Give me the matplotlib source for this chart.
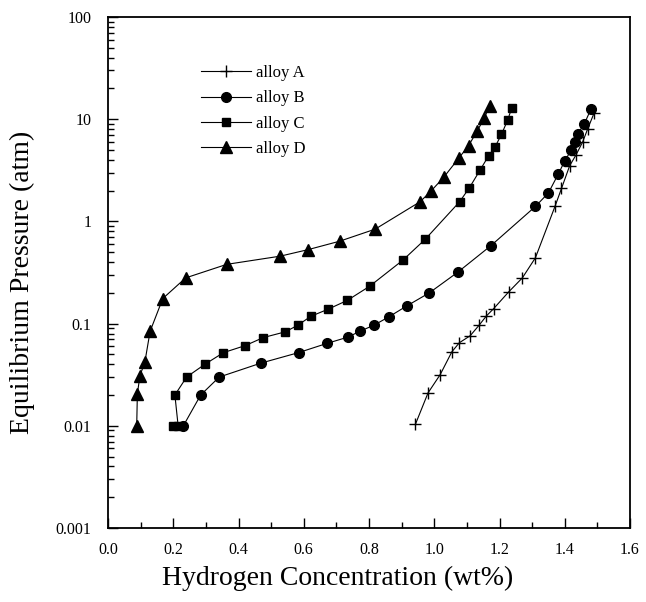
import matplotlib
matplotlib.use('Agg')
import matplotlib.pyplot as plt
from matplotlib.ticker import LogLocator, MultipleLocator, NullFormatter

plt.rcParams['font.family'] = ['Liberation Serif', 'DejaVu Serif']

# datos
xA = [0.942, 0.981, 1.018, 1.054, 1.077, 1.11, 1.137, 1.16, 1.182, 1.228, 1.27, 1.31, 1.37, 1.39, 1.415, 1.435, 1.455, 1.47, 1.49]
pA = [0.0103, 0.021, 0.0316, 0.053, 0.065, 0.076, 0.096, 0.119, 0.14, 0.204, 0.28, 0.44, 1.4, 2.1, 3.5, 4.5, 6.0, 8.0, 11.5]

xB = [0.231, 0.284, 0.341, 0.468, 0.584, 0.671, 0.737, 0.771, 0.814, 0.86, 0.916, 0.985, 1.073, 1.174, 1.31, 1.35, 1.38, 1.40, 1.42, 1.43, 1.44, 1.46, 1.48]
pB = [0.01, 0.02, 0.03, 0.041, 0.052, 0.064, 0.074, 0.084, 0.096, 0.116, 0.149, 0.2, 0.32, 0.58, 1.4, 1.9, 2.9, 3.9, 5.0, 6.0, 7.2, 9.0, 12.5]

xC = [0.2, 0.215, 0.205, 0.241, 0.297, 0.354, 0.421, 0.476, 0.543, 0.581, 0.622, 0.674, 0.734, 0.802, 0.904, 0.972, 1.078, 1.108, 1.141, 1.167, 1.187, 1.206, 1.225, 1.238]
pC = [0.01, 0.01, 0.02, 0.03, 0.04, 0.052, 0.061, 0.073, 0.083, 0.096, 0.118, 0.138, 0.169, 0.232, 0.418, 0.667, 1.56, 2.14, 3.2, 4.4, 5.4, 7.1, 9.8, 13.0]

xD = [0.088, 0.09, 0.098, 0.113, 0.129, 0.168, 0.238, 0.364, 0.528, 0.614, 0.71, 0.819, 0.957, 0.99, 1.029, 1.075, 1.105, 1.131, 1.153, 1.17]
pD = [0.01, 0.0206, 0.031, 0.042, 0.084, 0.176, 0.28, 0.38, 0.457, 0.53, 0.64, 0.84, 1.56, 1.98, 2.7, 4.15, 5.5, 7.6, 10.2, 13.6]

yticks = [0.001, 0.01, 0.1, 1, 10, 100]
ylabels = ['0.001', '0.01', '0.1', '1', '10', '100']
xticks = [0.0, 0.2, 0.4, 0.6, 0.8, 1.0, 1.2, 1.4, 1.6]

fig = plt.figure(figsize=(6.46, 6.02), dpi=100)
ax = fig.add_axes([108 / 646, 1 - 528 / 602, 522 / 646, 511 / 602])

lw = 0.8
ax.plot(xA, pA, color='black', lw=lw, marker='+', ms=8, mew=1.0, label='alloy A')
ax.plot(xB, pB, color='black', lw=lw, marker='o', ms=7, label='alloy B')
ax.plot(xC, pC, color='black', lw=lw, marker='s', ms=6, label='alloy C')
ax.plot(xD, pD, color='black', lw=lw, marker='^', ms=8, label='alloy D')

ax.set_yscale('log')
ax.set_xlim(0.0, 1.6)
ax.set_ylim(0.001, 100)
ax.set_yticks(yticks)
ax.set_yticklabels(ylabels)
ax.yaxis.set_minor_locator(LogLocator(base=10, subs=range(2, 10)))
ax.yaxis.set_minor_formatter(NullFormatter())
ax.set_xticks(xticks)
ax.set_xticklabels([f'{v:.1f}' for v in xticks])
ax.xaxis.set_minor_locator(MultipleLocator(0.1))

ax.tick_params(which='both', direction='in', top=False, right=False, labelsize=11.5, width=1.0)
ax.tick_params(which='major', length=7)
ax.tick_params(which='minor', length=4)
ax.tick_params(axis='x', pad=10)
ax.tick_params(axis='y', pad=12)
for s in ax.spines.values():
    s.set_linewidth(1.3)

ax.set_xlabel('Hydrogen Concentration (wt%)', fontsize=20)
ax.xaxis.set_label_coords(0.44, -0.075)
ax.set_ylabel('Equilibrium Pressure (atm)', fontsize=20)
ax.yaxis.set_label_coords(-0.14, 0.48)

ax.legend(loc='upper left', bbox_to_anchor=(0.15, 0.935), frameon=False, fontsize=12,
          handlelength=3, handletextpad=0.3, labelspacing=0.55)

plt.savefig('out.png', dpi=100)
